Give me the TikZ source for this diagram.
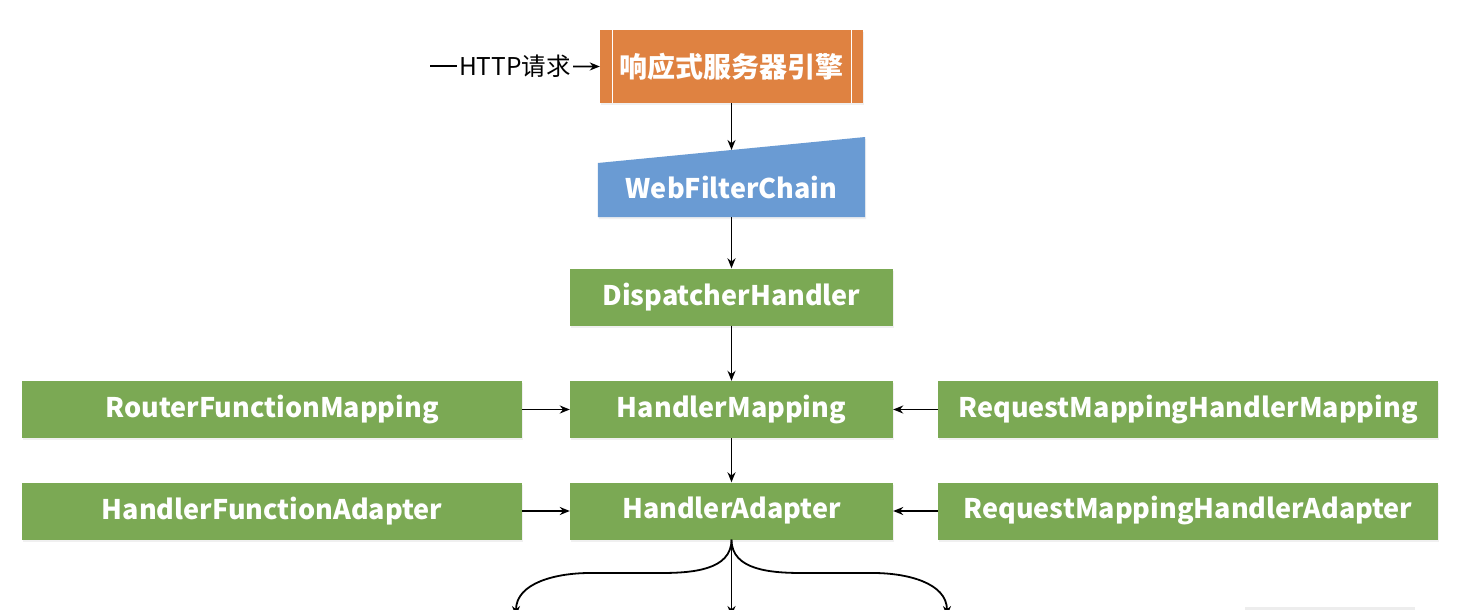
\documentclass[tikz,border=0pt]{standalone}
\usepackage{fontspec}
\setmainfont{Noto Sans CJK SC}
\usetikzlibrary{arrows.meta,shadows}
\definecolor{eorange}{HTML}{DF8241}
\definecolor{eblue}{HTML}{6A9BD3}
\definecolor{egreen}{HTML}{7BA954}
\begin{document}
\begin{tikzpicture}[x=1pt,y=-1pt,
  box/.style={fill=egreen,text=white,font=\fontsize{27}{30}\selectfont\bfseries,
    minimum height=57pt,inner sep=0pt,
    drop shadow={opacity=0.12,shadow xshift=1pt,shadow yshift=-2pt}},
  wide/.style={box,minimum width=500pt},
  mid/.style={box,minimum width=323pt},
  arr/.style={-{Stealth[length=10pt,width=8pt]},line width=1.8pt,black},
]
\useasboundingbox (0,0) rectangle (1484,610);
% engine
\node[box,fill=eorange,minimum width=263pt,minimum height=73pt,font=\fontsize{28}{30}\selectfont\bfseries] (eng) at (731.5,66.5) {响应式服务器引擎};
\draw[white,line width=1.2pt] ([xshift=13pt]eng.north west) -- ([xshift=13pt]eng.south west);
\draw[white,line width=1.2pt] ([xshift=-12pt]eng.north east) -- ([xshift=-12pt]eng.south east);
\coordinate (src) at (430,66);
\draw[arr] (src) -- node[fill=white,inner sep=2pt,font=\fontsize{24.5}{26}\selectfont]{HTTP请求} (eng.west);
% webfilterchain
\node[inner sep=0pt,minimum width=267pt,minimum height=60pt] (wfc) at (731.5,187) {};
\fill[eblue,drop shadow={opacity=0.12,shadow xshift=1pt,shadow yshift=-2pt}] (wfc.south west) -- (wfc.south east) -- (wfc.east |- 0,137) -- (wfc.west |- 0,163) -- cycle;
\node[text=white,font=\fontsize{27}{30}\selectfont\bfseries] at (wfc) {WebFilterChain};
\coordinate (wfctop) at (731.5,150);
\draw[arr] (eng.south) -- (wfctop);
% column
\node[mid] (dh) at (731.5,297) {DispatcherHandler};
\node[mid] (hm) at (731.5,409.5) {HandlerMapping};
\node[mid] (ha) at (731.5,511) {HandlerAdapter};
\node[wide] (rfm) at (272,409.5) {RouterFunctionMapping};
\node[wide] (rmhm) at (1188,409.5) {RequestMappingHandlerMapping};
\node[wide] (hfa) at (272,511) {HandlerFunctionAdapter};
\node[wide] (rmha) at (1188,511) {RequestMappingHandlerAdapter};
\draw[arr] (wfc.south) -- (dh.north);
\draw[arr] (dh.south) -- (hm.north);
\draw[arr] (hm.south) -- (ha.north);
\draw[arr] (rfm.east) -- (hm.west);
\draw[arr] (rmhm.west) -- (hm.east);
\draw[arr] (hfa.east) -- (ha.west);
\draw[arr] (rmha.west) -- (ha.east);
% outputs
\coordinate (o1) at (516,616);
\coordinate (o2) at (731.5,616);
\coordinate (o3) at (947,616);
\draw[arr] (ha.south) to[out=-90,in=0] (660,573) -- (590,573) to[out=180,in=90] (o1);
\draw[arr] (ha.south) -- (o2);
\draw[arr] (ha.south) to[out=-90,in=180] (803,573) -- (873,573) to[out=0,in=90] (o3);
% faint shadow at bottom right
\fill[black!7] (1245,607) rectangle (1415,610);
\end{tikzpicture}
\end{document}
